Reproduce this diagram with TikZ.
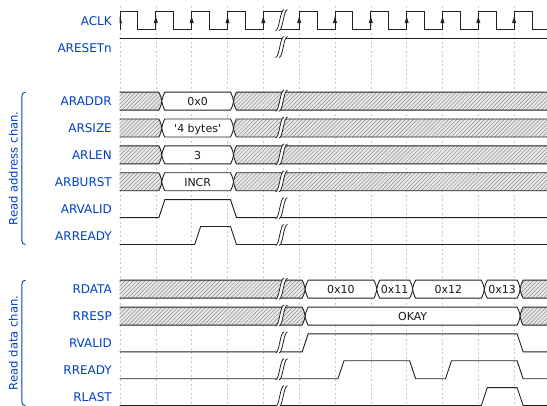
\documentclass[tikz,border=0pt]{standalone}
\usepackage{fontspec}
\setmainfont{DejaVu Sans}
\usetikzlibrary{patterns.meta}
\definecolor{wdblue}{HTML}{0041C4}
\definecolor{sigcol}{HTML}{222222}
\definecolor{gridcol}{HTML}{C8C8C8}
\tikzset{
  sig/.style={draw=sigcol,line width=0.9pt,line join=miter},
  gridline/.style={draw=gridcol,line width=0.6pt,dash pattern=on 2pt off 2.5pt},
  hatch/.style={preaction={fill=gray!18},pattern={Lines[angle=45,distance=2.8pt,line width=0.5pt]},pattern color=gray!90,draw=sigcol,line width=0.9pt},
  databox/.style={fill=white,draw=sigcol,line width=0.9pt},
  datatext/.style={font=\fontsize{11}{13}\selectfont,text=black!90,inner sep=0pt,text height=1.5ex,text depth=0.25ex},
  siglabel/.style={font=\fontsize{12}{14}\selectfont,text=wdblue,anchor=east,inner sep=0pt,text height=1.5ex,text depth=0.25ex},
  grplabel/.style={font=\fontsize{11.6}{14}\selectfont,text=wdblue,rotate=90,inner sep=0pt},
  gapline/.style={draw=sigcol,line width=0.8pt},
  bracket/.style={draw=wdblue,line width=0.9pt}
}
\newcommand{\wdshapepath}[3]{(#2+3,#1-9) -- (#3-3,#1-9) .. controls (#3-1.6,#1-6.5) and (#3-0.2,#1-2.5) .. (#3,#1) .. controls (#3-0.2,#1+2.5) and (#3-1.6,#1+6.5) .. (#3-3,#1+9) -- (#2+3,#1+9) .. controls (#2+1.6,#1+6.5) and (#2+0.2,#1+2.5) .. (#2,#1) .. controls (#2+0.2,#1-2.5) and (#2+1.6,#1-6.5) .. cycle}
\newcommand{\wdhatch}[3]{%
  \path[hatch] (#2+3,#1-9) -- (#3-3,#1-9) .. controls (#3-1.6,#1-6.5) and (#3-0.2,#1-2.5) .. (#3,#1) .. controls (#3-0.2,#1+2.5) and (#3-1.6,#1+6.5) .. (#3-3,#1+9) -- (#2+3,#1+9) .. controls (#2+1.6,#1+6.5) and (#2+0.2,#1+2.5) .. (#2,#1) .. controls (#2+0.2,#1-2.5) and (#2+1.6,#1-6.5) .. cycle;}
\newcommand{\wddata}[5]{%
  \path[databox] (#2+3,#1-9) -- (#3-3,#1-9) .. controls (#3-1.6,#1-6.5) and (#3-0.2,#1-2.5) .. (#3,#1) .. controls (#3-0.2,#1+2.5) and (#3-1.6,#1+6.5) .. (#3-3,#1+9) -- (#2+3,#1+9) .. controls (#2+1.6,#1+6.5) and (#2+0.2,#1+2.5) .. (#2,#1) .. controls (#2+0.2,#1-2.5) and (#2+1.6,#1-6.5) .. cycle;
  \node[datatext] (#4) at ({(#2+#3)/2},#1+1.2) {#5};}
\newcommand{\wdgap}[1]{%
  \fill[white] (275.5,#1+10) .. controls (279.5,#1+10) and (280,#1-11) .. (284,#1-11) -- (287.5,#1-11) .. controls (283.5,#1-11) and (283,#1+10) .. (279,#1+10) -- cycle;
  \draw[gapline] (275.5,#1+10) .. controls (279.5,#1+10) and (280,#1-11) .. (284,#1-11);
  \draw[gapline] (279,#1+10) .. controls (283,#1+10) and (283.5,#1-11) .. (287.5,#1-11);}
\begin{document}
\begin{tikzpicture}[x=1pt,y=-1pt]
\useasboundingbox (0,0) rectangle (547,406);
\fill[white] (0,0) rectangle (547,406);
% grid
\foreach \x in {120,155.83,191.66,227.49,263.32,299.15,334.98,370.81,406.64,442.47,478.30,514.13}
  \draw[gridline] (\x,6) -- (\x,406);
% labels
\node[siglabel] (lACLK) at (112,21.8) {ACLK};
\node[siglabel] (lARESETn) at (112,48.7) {ARESETn};
\node[siglabel] (lARADDR) at (112,102.4) {ARADDR};
\node[siglabel] (lARSIZE) at (112,129.2) {ARSIZE};
\node[siglabel] (lARLEN) at (112,156.1) {ARLEN};
\node[siglabel] (lARBURST) at (112,183.0) {ARBURST};
\node[siglabel] (lARVALID) at (112,209.8) {ARVALID};
\node[siglabel] (lARREADY) at (112,236.7) {ARREADY};
\node[siglabel] (lRDATA) at (112,290.4) {RDATA};
\node[siglabel] (lRRESP) at (112,317.3) {RRESP};
\node[siglabel] (lRVALID) at (112,344.1) {RVALID};
\node[siglabel] (lRREADY) at (112,371.0) {RREADY};
\node[siglabel] (lRLAST) at (112,397.8) {RLAST};
% groups
\draw[bracket] (25.5,92.2) .. controls (23,92.2) and (21.8,93.6) .. (21.8,96.5) -- (21.8,240.2) .. controls (21.8,243.1) and (23,244.5) .. (25.5,244.5);
\node[grplabel] (gAR) at (13.3,168.4) {Read address chan.};
\draw[bracket] (25.5,280.2) .. controls (23,280.2) and (21.8,281.6) .. (21.8,284.5) -- (21.8,401.3) .. controls (21.8,404.2) and (23,405.6) .. (25.5,405.6);
\node[grplabel] (gR) at (13.3,342.9) {Read data chan.};
\begin{scope}
\clip (119.5,0) rectangle (547,406);
% ACLK
\draw[sig] (120,29.6) -- (120,11.6) -- (137.92,11.6) -- (137.92,29.6) -- (155.83,29.6) -- (155.83,11.6) -- (173.75,11.6) -- (173.75,29.6) -- (191.66,29.6) -- (191.66,11.6) -- (209.58,11.6) -- (209.58,29.6) -- (227.49,29.6) -- (227.49,11.6) -- (245.41,11.6) -- (245.41,29.6) -- (263.32,29.6) -- (263.32,11.6) -- (285,11.6);
\draw[sig] (277,29.6) -- (299.15,29.6) -- (299.15,11.6) -- (317.07,11.6) -- (317.07,29.6) -- (334.98,29.6) -- (334.98,11.6) -- (352.9,11.6) -- (352.9,29.6) -- (370.81,29.6) -- (370.81,11.6) -- (388.73,11.6) -- (388.73,29.6) -- (406.64,29.6) -- (406.64,11.6) -- (424.56,11.6) -- (424.56,29.6) -- (442.47,29.6) -- (442.47,11.6) -- (460.39,11.6) -- (460.39,29.6) -- (478.3,29.6) -- (478.3,11.6) -- (496.22,11.6) -- (496.22,29.6) -- (514.13,29.6) -- (514.13,11.6) -- (532.05,11.6) -- (532.05,29.6) -- (560,29.6);
\foreach \x in {120,155.83,191.66,227.49,263.32,299.15,334.98,370.81,406.64,442.47,478.30,514.13}
  \fill[sigcol] (\x,16.4) -- (\x-2.1,23.2) -- (\x+2.1,23.2) -- cycle;
\wdgap{20.6}
% ARESETn
\draw[sig] (100,38.5) -- (560,38.5);
\wdgap{47.5}
% address bus rows
\wdhatch{101.2}{90}{161.83}
\wddata{101.2}{161.83}{233.49}{dARADDR}{0x0}
\wdhatch{101.2}{233.49}{580}
\wdgap{101.2}
\wdhatch{128.0}{90}{161.83}
\wddata{128.0}{161.83}{233.49}{dARSIZE}{\textquotesingle 4 bytes\textquotesingle}
\wdhatch{128.0}{233.49}{580}
\wdgap{128.0}
\wdhatch{154.9}{90}{161.83}
\wddata{154.9}{161.83}{233.49}{dARLEN}{3}
\wdhatch{154.9}{233.49}{580}
\wdgap{154.9}
\wdhatch{181.8}{90}{161.83}
\wddata{181.8}{161.83}{233.49}{dARBURST}{INCR}
\wdhatch{181.8}{233.49}{580}
\wdgap{181.8}
% ARVALID
\draw[sig] (100,217.6) -- (158.83,217.6) -- (164.83,199.6) -- (230.49,199.6) -- (236.49,217.6) -- (560,217.6);
\wdgap{208.6}
% ARREADY
\draw[sig] (100,244.5) -- (194.66,244.5) -- (200.66,226.5) -- (230.49,226.5) -- (236.49,244.5) -- (560,244.5);
\wdgap{235.5}
% RDATA
\wdhatch{289.2}{90}{305.15}
\wdgap{289.2}
\wddata{289.2}{305.15}{376.81}{dR10}{0x10}
\wddata{289.2}{376.81}{412.64}{dR11}{0x11}
\wddata{289.2}{412.64}{484.30}{dR12}{0x12}
\wddata{289.2}{484.30}{520.13}{dR13}{0x13}
\wdhatch{289.2}{520.13}{580}
% RRESP
\wdhatch{316.1}{90}{305.15}
\wdgap{316.1}
\wddata{316.1}{305.15}{520.13}{dRRESP}{OKAY}
\wdhatch{316.1}{520.13}{580}
% RVALID
\draw[sig] (100,351.9) -- (302.15,351.9) -- (308.15,333.9) -- (517.13,333.9) -- (523.13,351.9) -- (560,351.9);
\wdgap{342.9}
% RREADY
\draw[sig] (100,378.8) -- (337.98,378.8) -- (343.98,360.8) -- (409.64,360.8) -- (415.64,378.8) -- (445.47,378.8) -- (451.47,360.8) -- (517.13,360.8) -- (523.13,378.8) -- (560,378.8);
\wdgap{369.8}
% RLAST
\draw[sig] (100,405.6) -- (481.3,405.6) -- (487.3,387.6) -- (517.13,387.6) -- (523.13,405.6) -- (560,405.6);
\wdgap{396.6}
\end{scope}
\end{tikzpicture}
\end{document}
